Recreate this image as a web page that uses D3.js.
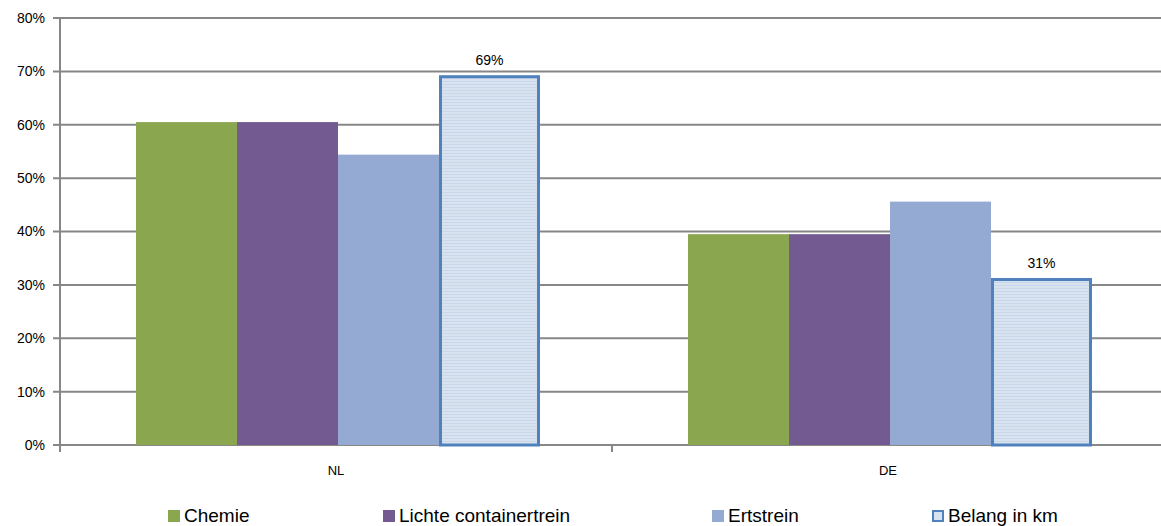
<!DOCTYPE html>
<html>
<head>
<meta charset="utf-8">
<script src="https://cdn.jsdelivr.net/npm/d3@7"></script>
<style>
  body { margin: 0; background: #fff; }
  svg { display: block; font-family: "Liberation Sans", Arial, sans-serif; }
</style>
</head>
<body>
<div id="chart"></div>
<script>
// data
var categories = ["NL", "DE"];
var seriesNames = ["Chemie", "Lichte containertrein", "Ertstrein", "Belang in km"];
var chemie = [60.5, 39.5];
var lichte = [60.5, 39.5];
var ertstrein = [54.4, 45.6];
var belang = [69, 31];
var yTicks = [0, 10, 20, 30, 40, 50, 60, 70, 80];

var seriesValues = [chemie, lichte, ertstrein, belang];
var colors = ["#8aa64e", "#735a90", "#95aad2", "url(#stripes)"];

// set up the svg
var W = 1161, H = 526;
var margin = {top: 18, left: 60, bottom: 81};
var svg = d3.select("#chart").append("svg")
    .attr("width", W)
    .attr("height", H);

// striped fill for the "Belang in km" bars
var defs = svg.append("defs");
var pat = defs.append("pattern")
    .attr("id", "stripes")
    .attr("patternUnits", "userSpaceOnUse")
    .attr("width", 4).attr("height", 3);
pat.append("rect").attr("width", 4).attr("height", 3).attr("fill", "#d9e3f0");
pat.append("rect").attr("width", 4).attr("height", 1).attr("fill", "#c9d7ea");

var x0 = d3.scaleBand()
    .domain(categories)
    .range([margin.left, 1164]);

var x1 = d3.scaleBand()
    .domain(seriesNames)
    .range([76, 480]);

var y = d3.scaleLinear()
    .domain([0, 80])
    .range([H - margin.bottom, margin.top]);

// gridlines
svg.append("g")
    .selectAll("line")
    .data(yTicks)
    .enter()
    .append("line")
    .attr("x1", margin.left - 7)
    .attr("x2", W)
    .attr("y1", function(d) { return y(d); })
    .attr("y2", function(d) { return y(d); })
    .attr("stroke", "#878787")
    .attr("stroke-width", 2);

// y axis line + labels
svg.append("line")
    .attr("x1", margin.left).attr("x2", margin.left)
    .attr("y1", y(80)).attr("y2", y(0))
    .attr("stroke", "#878787").attr("stroke-width", 2);

svg.append("g")
    .selectAll("text")
    .data(yTicks)
    .enter()
    .append("text")
    .attr("x", 45)
    .attr("y", function(d) { return y(d); })
    .attr("dy", "0.35em")
    .attr("text-anchor", "end")
    .attr("font-size", "14px")
    .attr("fill", "#000")
    .text(function(d) { return d + "%"; });

// x axis ticks between categories
var xTickPos = [margin.left, x0("DE")];
svg.append("g")
    .selectAll("line")
    .data(xTickPos)
    .enter()
    .append("line")
    .attr("x1", function(d) { return d; })
    .attr("x2", function(d) { return d; })
    .attr("y1", y(0))
    .attr("y2", y(0) + 7)
    .attr("stroke", "#878787")
    .attr("stroke-width", 2);

// category labels
svg.append("g")
    .selectAll("text")
    .data(categories)
    .enter()
    .append("text")
    .attr("x", function(d) { return x0(d) + x0.bandwidth() / 2; })
    .attr("y", 475)
    .attr("text-anchor", "middle")
    .attr("font-size", "13px")
    .text(function(d) { return d; });

// bars
var groups = svg.append("g")
    .selectAll("g")
    .data(categories)
    .enter()
    .append("g")
    .attr("transform", function(d) { return "translate(" + x0(d) + ",0)"; });

groups.selectAll("rect")
    .data(function(c, ci) {
        return seriesNames.map(function(s, si) {
            return {series: s, idx: si, value: seriesValues[si][ci]};
        });
    })
    .enter()
    .append("rect")
    .attr("x", function(d) { return x1(d.series) + (d.idx === 3 ? 1.5 : 0); })
    .attr("y", function(d) { return y(d.value); })
    .attr("width", function(d) { return x1.bandwidth() - (d.idx === 3 ? 3 : 0); })
    .attr("height", function(d) { return y(0) - y(d.value); })
    .attr("fill", function(d) { return colors[d.idx]; })
    .attr("stroke", function(d) { return d.idx === 3 ? "#4f81bd" : "none"; })
    .attr("stroke-width", 3);

// data labels on the Belang bars
groups.append("text")
    .datum(function(c, ci) { return belang[ci]; })
    .attr("x", x1("Belang in km") + x1.bandwidth() / 2)
    .attr("y", function(d) { return y(d) - 12; })
    .attr("text-anchor", "middle")
    .attr("font-size", "14px")
    .text(function(d) { return d + "%"; });

// legend
var legendX = [168, 383, 712, 932];
var legend = svg.append("g")
    .selectAll("g")
    .data(seriesNames)
    .enter()
    .append("g")
    .attr("transform", function(d, i) { return "translate(" + legendX[i] + ",510)"; });

legend.append("rect")
    .attr("x", function(d, i) { return i === 3 ? 1 : 0; })
    .attr("y", function(d, i) { return i === 3 ? 1 : 0; })
    .attr("width", function(d, i) { return i === 3 ? 10 : 12; })
    .attr("height", function(d, i) { return i === 3 ? 10 : 12; })
    .attr("fill", function(d, i) { return i === 3 ? "#d9e3f0" : colors[i]; })
    .attr("stroke", function(d, i) { return i === 3 ? "#4f81bd" : "none"; })
    .attr("stroke-width", 2);

legend.append("text")
    .attr("x", 16)
    .attr("y", 12)
    .attr("font-size", "19px")
    .text(function(d) { return d; });
</script>
</body>
</html>
